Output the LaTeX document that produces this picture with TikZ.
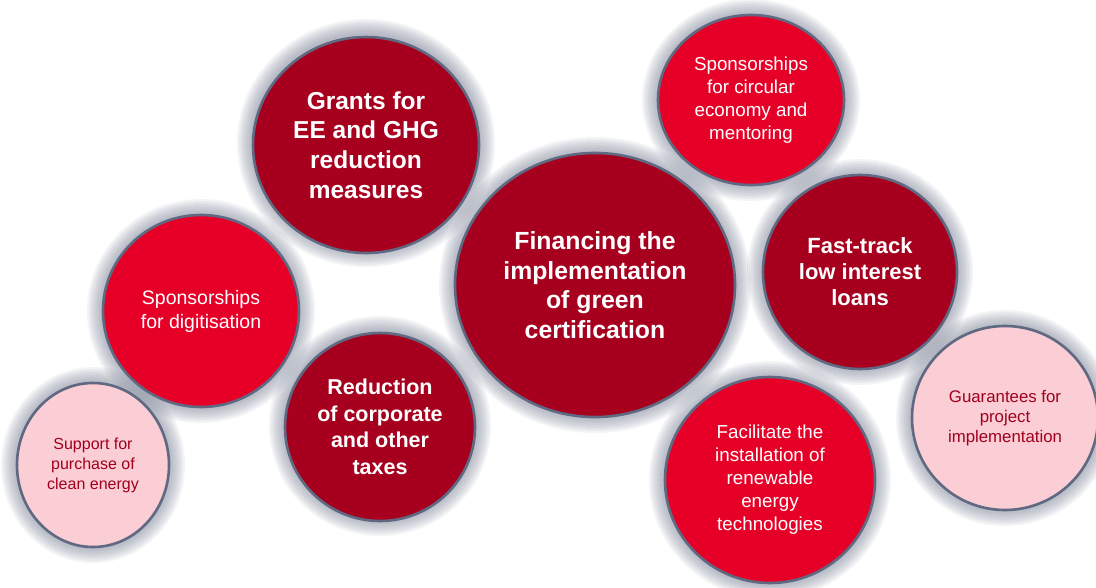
\documentclass[tikz,border=0pt]{standalone}
\usepackage{fontspec}
\setmainfont{Liberation Sans}
\usetikzlibrary{shapes.geometric}
\definecolor{dred}{RGB}{166,0,30}
\definecolor{bred}{RGB}{230,0,40}
\definecolor{lpink}{RGB}{251,205,212}
\definecolor{ptext}{RGB}{160,0,30}
\definecolor{rim}{RGB}{95,105,130}
\definecolor{glowc}{RGB}{120,128,148}
\tikzset{
  bubble/.style={ellipse, draw=rim, line width=2.6pt, inner sep=0pt, align=center},
  darkb/.style={bubble, fill=dred, text=white, font=\bfseries},
  brightb/.style={bubble, fill=bred, text=white},
  pinkb/.style={bubble, fill=lpink, text=ptext},
}
\begin{document}
\begin{tikzpicture}[x=1pt,y=-1pt]
\useasboundingbox (0,0) rectangle (1096,587);
\fill[white] (0,0) rectangle (1096,587);
% glows
\foreach \cx/\cy/\rx/\ry in {366/143/113/108, 751/100/93/85, 595/285/140/132, 860/272/97/97, 201/311/98/96, 380/426/95/94, 93/465/76/82, 770/480/105/103, 1005/418/93/92}{
  \foreach \k in {1,...,8}{
    \fill[glowc, opacity=0.085] (\cx,\cy) ellipse [x radius=\rx+2*\k, y radius=\ry+2*\k];
  }
}
% bubbles
\node[darkb, minimum width=226pt, minimum height=216pt, font=\bfseries\fontsize{24.5}{29.7}\selectfont] (grants) at (366,145) {Grants for\\EE and GHG\\reduction\\measures};
\node[brightb, minimum width=186pt, minimum height=170pt, font=\fontsize{18.8}{23}\selectfont] (circ) at (751,100) {Sponsorships\\for circular\\economy and\\mentoring};
\node[darkb, minimum width=280pt, minimum height=264pt, font=\bfseries\fontsize{24.8}{29.5}\selectfont] (main) at (595,285) {Financing the\\implementation\\of green\\certification};
\node[darkb, minimum width=194pt, minimum height=194pt, font=\bfseries\fontsize{22}{26}\selectfont] (fast) at (860,272) {Fast-track\\low interest\\loans};
\node[brightb, minimum width=196pt, minimum height=192pt, font=\fontsize{19.5}{24}\selectfont] (digi) at (201,311) {Sponsorships\\for digitisation};
\node[darkb, minimum width=190pt, minimum height=188pt, font=\bfseries\fontsize{21.5}{26.5}\selectfont] (tax) at (380,427) {Reduction\\of corporate\\and other\\taxes};
\node[pinkb, minimum width=152pt, minimum height=164pt, font=\fontsize{16}{20}\selectfont] (supp) at (93,465) {Support for\\purchase of\\clean energy};
\node[brightb, minimum width=210pt, minimum height=206pt, font=\fontsize{18.8}{23}\selectfont] (fac) at (770,480) {Facilitate the\\installation of\\renewable\\energy\\technologies};
\node[pinkb, minimum width=186pt, minimum height=184pt, font=\fontsize{16.8}{20}\selectfont] (guar) at (1005,418) {Guarantees for\\project\\implementation};
\end{tikzpicture}
\end{document}
